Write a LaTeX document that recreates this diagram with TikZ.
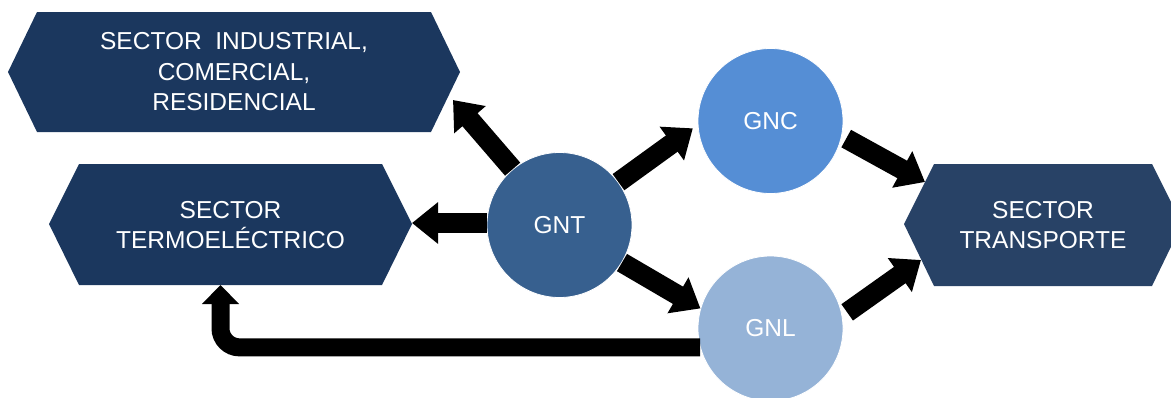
\documentclass[tikz,border=0pt]{standalone}
\usepackage{fontspec}
\setmainfont{Liberation Sans}
\usetikzlibrary{arrows.meta,calc}
\definecolor{hexA}{HTML}{1B375E}
\definecolor{hexB}{HTML}{284266}
\definecolor{cGNT}{HTML}{37608F}
\definecolor{cGNC}{HTML}{558ED5}
\definecolor{cGNL}{HTML}{95B3D7}
\begin{document}
\begin{tikzpicture}[x=1pt,y=-1pt,
  lbl/.style={text=white, align=center, font=\fontsize{24.5}{30.5}\selectfont, inner sep=0pt},
  gas/.style={circle, minimum size=145pt, inner sep=0pt, draw=white, line width=0.8pt, lbl},
  fat/.style={line width=20pt, -{Triangle[length=26pt,width=40pt]}},
  bent/.style={line width=18pt, rounded corners=19pt, -{Triangle[length=19pt,width=36pt]}}]
\useasboundingbox (0,0) rectangle (1171,397);
% hexagons
\fill[hexA] (8,72) -- (37,12) -- (431,12) -- (460,72) -- (431,132) -- (37,132) -- cycle;
\fill[hexA] (49,224) -- (79,164) -- (382,164) -- (412,224) -- (382,285) -- (79,285) -- cycle;
\fill[hexB] (904,224) -- (934,164) -- (1152,164) -- (1182,224) -- (1152,286) -- (934,286) -- cycle;
\node[lbl] (ind) at (234,72) {SECTOR~ INDUSTRIAL,\\COMERCIAL,\\RESIDENCIAL};
\node[lbl] (termo) at (230.5,225) {SECTOR\\TERMOELÉCTRICO};
\node[lbl] (trans) at (1043,225) {SECTOR\\TRANSPORTE};
\coordinate (indTip) at (453,100);
\coordinate (termoE) at (412,223);
\coordinate (termoB) at (220.5,285);
\coordinate (trTop) at (925,182);
\coordinate (trBot) at (921,260);
% circles
\node[gas, fill=cGNT] (gnt) at (559.5,225) {GNT};
\node[gas, fill=cGNC] (gnc) at (770.5,121) {GNC};
\node[gas, fill=cGNL] (gnl) at (770.5,328.5) {GNL};
% arrows
\draw[fat] (gnt.130) -- (indTip);
\draw[fat] (gnt.180 |- termoE) -- (termoE);
\draw[fat, shorten >=6pt] (gnt.36) -- (gnc.183);
\draw[fat] (gnt.-31) -- (gnl.164);
\draw[fat, shorten <=5pt] (gnc.-12) -- (trTop);
\draw[fat, shorten <=6pt] (gnl.10) -- (trBot);
\draw[bent] (gnl.195) -| (termoB);
\end{tikzpicture}
\end{document}
